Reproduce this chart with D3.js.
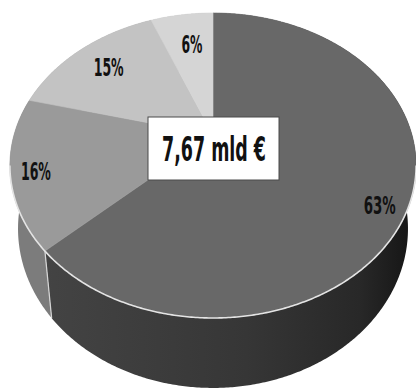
<!DOCTYPE html>
<html>
<head>
<meta charset="utf-8">
<script src="https://cdn.jsdelivr.net/npm/d3@7"></script>
<style>
  html, body { margin: 0; padding: 0; background: #fff; }
  svg { display: block; }
</style>
</head>
<body>
<svg id="chart" width="416" height="390"></svg>
<script>
// Shares of the total, clockwise from 12 o'clock
const shares = [63, 16, 15, 6];
const shareLabels = ["63%", "16%", "15%", "6%"];
const totalLabel = "7,67 mld €";

// Fill tones for the top faces and the outer walls
const topFill = ["#686868", "#9a9a9a", "#c3c3c3", "#d5d5d5"];
const wallFill = ["url(#wallDark)", "#7c7c7c", "#a8a8a8", "#b8b8b8"];

const W = 416, H = 390;
const svg = d3.select("#chart");

// 3D pie geometry: ellipse with mild perspective (front larger than back)
const cx = 213, cy = 135;      // projected centre of the top face
const R = 199, Ry = 146.4;     // horizontal / vertical radii
const persp = 0.2;             // perspective strength
const depth = 61.8;            // wall height
const shrink = 0.96;           // bottom ring converges slightly

const xs = d3.scaleLinear().domain([-1, 1]).range([cx - R, cx + R]);
const ys = d3.scaleLinear().domain([-1, 1]).range([cy - Ry, cy + Ry]);

function proj(theta, r, z) {
  const u = Math.sin(theta) * r, v = -Math.cos(theta) * r;
  const f = 1 / (1 - persp * v);
  const s = z ? shrink : 1;
  return [xs(u * f * s), ys(v * f * s) + z * depth * f];
}

const step = Math.PI / 360;
function arcPts(a0, a1, z) {
  const n = Math.max(2, Math.ceil(Math.abs(a1 - a0) / step));
  return d3.range(n + 1).map(i => proj(a0 + (a1 - a0) * i / n, 1, z));
}

const line = d3.line();

const defs = svg.append("defs");
const g1 = defs.append("linearGradient").attr("id", "wallDark")
  .attr("gradientUnits", "userSpaceOnUse")
  .attr("x1", 40).attr("y1", 0).attr("x2", 416).attr("y2", 0);
g1.append("stop").attr("offset", "0%").attr("stop-color", "#444");
g1.append("stop").attr("offset", "55%").attr("stop-color", "#363636");
g1.append("stop").attr("offset", "85%").attr("stop-color", "#282828");
g1.append("stop").attr("offset", "100%").attr("stop-color", "#141414");

const pie = d3.pie().sort(null).value(d => d)
  .startAngle(0).endAngle(2 * Math.PI);
const arcs = pie(shares);

// Outer walls
svg.append("g").selectAll("path").data(arcs).join("path")
  .attr("d", d => {
    const top = arcPts(d.startAngle, d.endAngle, 0);
    const bot = arcPts(d.startAngle, d.endAngle, 1).reverse();
    return line(top.concat(bot)) + "Z";
  })
  .attr("fill", (d, i) => wallFill[i]);

// Vertical edges between walls on the visible front half
const frontEdges = arcs.map(d => d.startAngle)
  .filter(a => -Math.cos(a) > persp);
svg.append("g").selectAll("path").data(frontEdges).join("path")
  .attr("d", a => line([proj(a, 1, 0), proj(a, 1, 1)]))
  .attr("stroke", "#d6d6d6").attr("stroke-width", 1.2).attr("fill", "none");

// Top faces
svg.append("g").selectAll("path").data(arcs).join("path")
  .attr("d", d => line([proj(0, 0, 0)].concat(arcPts(d.startAngle, d.endAngle, 0))) + "Z")
  .attr("fill", (d, i) => topFill[i])
  .attr("stroke", (d, i) => topFill[i]).attr("stroke-width", 0.6);

// Light rim along the front of the top face
const rimA = Math.PI / 2 + Math.asin(persp), rimB = 1.5 * Math.PI - Math.asin(persp);
svg.append("path")
  .attr("d", line(arcPts(rimA, rimB, 0)))
  .attr("fill", "none").attr("stroke", "#e4e4e4").attr("stroke-width", 1.6);

// Percentage labels
const labelSpot = [
  { da: 0.11, r: 0.88 },
  { da: -0.02, r: 0.88 },
  { da: 0.0, r: 0.77 },
  { da: 0.02, r: 0.72 }
];
const labelWidth = [32, 30, 30, 21];
svg.append("g").selectAll("text").data(arcs).join("text")
  .each(function (d, i) {
    const mid = (d.startAngle + d.endAngle) / 2 + labelSpot[i].da;
    const [px, py] = proj(mid, labelSpot[i].r, 0);
    d3.select(this).attr("x", px).attr("y", py + 9);
  })
  .attr("text-anchor", "middle")
  .attr("font-family", "'Liberation Sans Narrow', 'DejaVu Sans Condensed', sans-serif")
  .attr("font-weight", "bold")
  .attr("font-size", 25)
  .attr("textLength", (d, i) => labelWidth[i])
  .attr("lengthAdjust", "spacingAndGlyphs")
  .attr("fill", "#111")
  .text((d, i) => shareLabels[i]);

// Total in a white box over the centre
const box = svg.append("g");
box.append("rect")
  .attr("x", cx - 65).attr("y", 117).attr("width", 131).attr("height", 63)
  .attr("fill", "#fff").attr("stroke", "#4a4a4a").attr("stroke-width", 1);
box.append("text")
  .attr("x", cx + 1).attr("y", 160.5)
  .attr("text-anchor", "middle")
  .attr("font-family", "'Liberation Sans Narrow', 'DejaVu Sans Condensed', sans-serif")
  .attr("font-weight", "bold")
  .attr("font-size", 33)
  .attr("textLength", 104)
  .attr("lengthAdjust", "spacingAndGlyphs")
  .attr("fill", "#111")
  .text(totalLabel);
</script>
</body>
</html>
